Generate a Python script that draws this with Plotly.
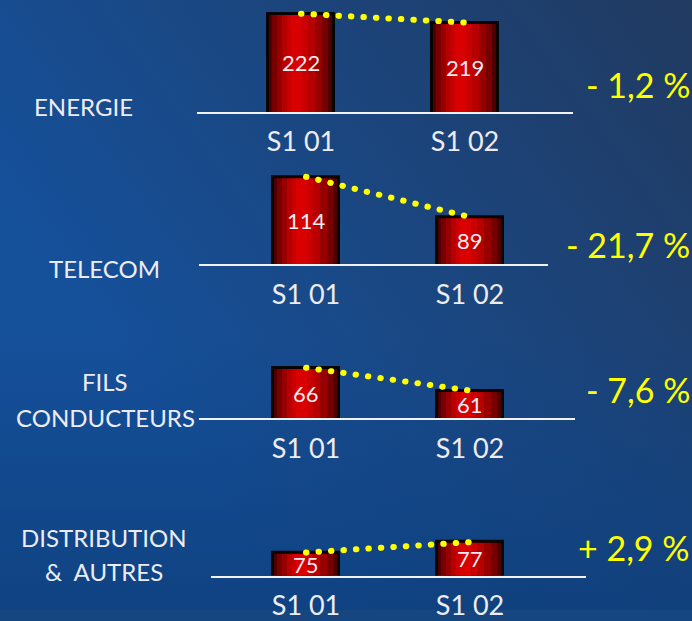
import base64
import plotly.graph_objects as go

# Données
periods = ["S1 01", "S1 02"]
segments = [["ENERGIE"], ["TELECOM"], ["FILS", "CONDUCTEURS"], ["DISTRIBUTION", "&\u00a0 AUTRES"]]
values_s1_01 = [222, 114, 66, 75]
values_s1_02 = [219, 89, 61, 77]
changes = ["- 1,2 %", "- 21,7 %", "- 7,6 %", "+ 2,9 %"]

W, H = 692, 621
FONT = "Lato"
TXT = "#ececf2"

# Mise en page des lignes (pixels)
rows = [
    dict(left=197, right=573, top=4, base=114, yr=[188.7, 225.3], c0=301, lab_x=83, lab_y=[108], pct_y=86),
    dict(left=199, right=548, top=160, base=269, yr=[59.7, 126.2], c0=306, lab_x=104, lab_y=[273], pct_y=249),
    dict(left=199, right=575, top=345, base=426, yr=[54.9, 72.3], c0=306, lab_x=105, lab_y=[388, 425], pct_y=397),
    dict(left=211, right=586, top=520, base=586, yr=[70.5, 83.1], c0=306, lab_x=104, lab_y=[547, 582], pct_y=557),
]
STEP = 164
BAR_W = 0.40

# Dégradé horizontal des barres (fraction de largeur, couleur)
layers = [(1.0, "#4e0000"), (0.85, "#760000"), (0.68, "#980000"), (0.5, "#b60000"), (0.32, "#ca0000"), (0.16, "#d80000")]
CENTER = 0.42


def py(p):
    return 1 - p / H


fig = go.Figure()
annotations = []

for i, r in enumerate(rows):
    sfx = "" if i == 0 else str(i + 1)
    xa, ya = "x" + sfx, "y" + sfx
    vals = [values_s1_01[i], values_s1_02[i]]

    for frac, col in layers:
        fig.add_trace(go.Bar(
            x=periods, y=vals, xaxis=xa, yaxis=ya,
            width=BAR_W * frac,
            offset=-BAR_W / 2 + BAR_W * CENTER * (1 - frac),
            marker=dict(color=col, line=dict(width=0)),
            hoverinfo="skip", showlegend=False,
        ))
    # contour noir
    fig.add_trace(go.Bar(
        x=periods, y=vals, xaxis=xa, yaxis=ya,
        width=BAR_W, offset=-BAR_W / 2,
        marker=dict(color="rgba(0,0,0,0)", line=dict(color="#050505", width=3)),
        showlegend=False,
    ))
    # pointillés jaunes
    fig.add_trace(go.Scatter(
        x=periods, y=vals, xaxis=xa, yaxis=ya, mode="lines",
        line=dict(color="#ffff00", width=6, dash="0.5px,12px"),
        cliponaxis=False, showlegend=False, hoverinfo="skip",
    ))
    # valeurs au milieu de la partie visible de la barre
    for p, v in zip(periods, vals):
        annotations.append(dict(x=p, y=(r["yr"][0] + v) / 2, xref=xa, yref=ya, text=str(v),
                                showarrow=False, font=dict(family=FONT, size=22, color=TXT)))

    xdom = [r["left"] / W, r["right"] / W]
    ydom = [py(r["base"]), py(r["top"])]
    xrange = [(r["left"] - r["c0"]) / STEP, (r["right"] - r["c0"]) / STEP]
    fig.update_layout(**{
        "xaxis" + sfx: dict(domain=xdom, range=xrange, anchor=ya, showline=True, linecolor="#f2f2f2",
                            linewidth=2, showgrid=False, zeroline=False, ticks="", ticklabelstandoff=5,
                            tickfont=dict(family=FONT, size=27, color=TXT), fixedrange=True),
        "yaxis" + sfx: dict(domain=ydom, range=r["yr"], anchor=xa, visible=False, fixedrange=True),
    })

    for line, ly in zip(segments[i], r["lab_y"]):
        annotations.append(dict(x=r["lab_x"] / W, y=py(ly), xref="paper", yref="paper",
                                text=line, showarrow=False, xanchor="center", yanchor="middle",
                                font=dict(family=FONT, size=24, color=TXT)))
    annotations.append(dict(x=692 / W, y=py(r["pct_y"]), xref="paper", yref="paper",
                            text=changes[i], showarrow=False, xanchor="right", yanchor="middle",
                            font=dict(family=FONT, size=34, color="#ffff00")))

# fond dégradé bleu
svg = f'''<svg xmlns="http://www.w3.org/2000/svg" width="{W}" height="{H}">
<defs>
<linearGradient id="g" x1="1" y1="0" x2="0.15" y2="0.55">
<stop offset="0" stop-color="#213a60"/><stop offset="1" stop-color="#15509a"/>
</linearGradient>
<linearGradient id="b" x1="0" y1="0" x2="0" y2="1">
<stop offset="0.55" stop-color="#0e3f7c" stop-opacity="0"/><stop offset="1" stop-color="#0e3f7c" stop-opacity="0.8"/>
</linearGradient>
</defs>
<rect width="{W}" height="{H}" fill="url(#g)"/>
<rect width="{W}" height="{H}" fill="url(#b)"/>
</svg>'''
bg = "data:image/svg+xml;base64," + base64.b64encode(svg.encode()).decode()

fig.update_layout(
    width=W, height=H, autosize=False,
    margin=dict(l=0, r=0, t=0, b=0, pad=0),
    paper_bgcolor="#16467f", plot_bgcolor="rgba(0,0,0,0)",
    barmode="overlay", bargap=0,
    annotations=annotations,
    images=[dict(source=bg, xref="paper", yref="paper", x=0, y=1, sizex=1, sizey=1,
                 sizing="stretch", layer="below", xanchor="left", yanchor="top")],
)

# graphique fixé en haut à gauche de la page, points ronds
post = ("var d=document.getElementById('{plot_id}');"
        "d.style.position='fixed';d.style.top='0';d.style.left='0';"
        "document.documentElement.style.overflow='hidden';"
        "document.body.style.margin='0';document.body.style.overflow='hidden';"
        "document.head.insertAdjacentHTML('beforeend','<style>.js-line{stroke-linecap:round}</style>');")
fig.write_html("out.html", post_script=post,
               config={"displayModeBar": False, "responsive": False})
